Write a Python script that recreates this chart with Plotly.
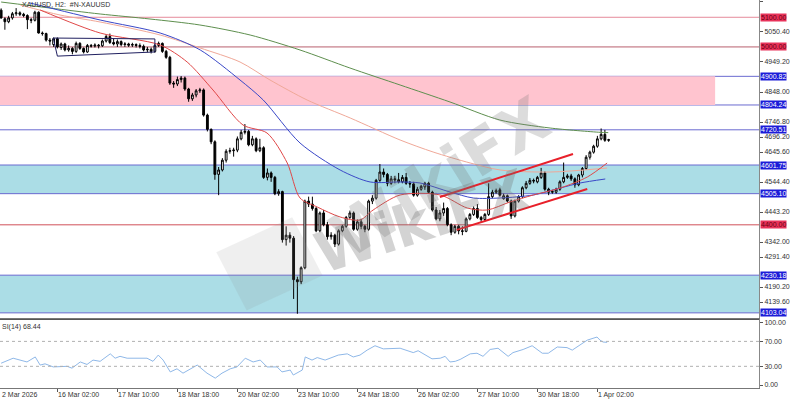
import plotly.graph_objects as go

# ---------------- candle data (H2 bars, XAUUSD) ----------------
opens = [5124, 5095, 5085, 5098, 5112, 5115, 5110, 5106, 5092, 5090,
         5117, 5047, 5045, 5023, 5008, 5028, 4998, 5010, 4990, 4995,
         4985, 5012, 4995, 4983, 5005, 5003, 5006, 5004, 5020, 5035,
         5015, 5010, 5018, 5008, 5010, 5006, 5008, 5005, 5002, 4990,
         4992, 4985, 5005, 5012, 4985, 4965, 4878, 4875, 4890, 4895,
         4858, 4825, 4838, 4852, 4855, 4770, 4722, 4680, 4570, 4585,
         4618, 4648, 4650, 4652, 4690, 4712, 4715, 4670, 4690, 4650,
         4660, 4560, 4575, 4560, 4505, 4512, 4350, 4365, 4355, 4215,
         4208, 4255, 4480, 4470, 4455, 4380, 4440, 4400, 4360, 4365,
         4335, 4380, 4395, 4425, 4440, 4385, 4410, 4395, 4385, 4480,
         4490, 4550, 4578, 4570, 4540, 4555, 4552, 4545, 4560, 4540,
         4538, 4500, 4520, 4528, 4540, 4510, 4450, 4420, 4440, 4455,
         4400, 4375, 4395, 4380, 4378, 4420, 4435, 4455, 4425, 4418,
         4435, 4495, 4510, 4518, 4488, 4498, 4480, 4430, 4480, 4495,
         4525, 4540, 4550, 4545, 4560, 4575, 4520, 4510, 4510, 4520,
         4545, 4560, 4565, 4555, 4535, 4568, 4590, 4628, 4645, 4665,
         4690, 4705, 4685]
highs = [5130, 5100, 5105, 5118, 5131, 5120, 5115, 5110, 5098, 5122,
         5120, 5052, 5048, 5030, 5032, 5032, 5015, 5014, 5005, 4999,
         5018, 5016, 4998, 5010, 5010, 5012, 5010, 5025, 5042, 5045,
         5030, 5025, 5022, 5016, 5014, 5014, 5012, 5012, 5008, 5000,
         4998, 5010, 5018, 5015, 4990, 4970, 4885, 4900, 4902, 4900,
         4862, 4845, 4858, 4862, 4860, 4775, 4725, 4685, 4595, 4625,
         4655, 4660, 4660, 4698, 4720, 4740, 4720, 4700, 4695, 4690,
         4665, 4590, 4580, 4565, 4520, 4515, 4395, 4375, 4362, 4225,
         4260, 4485, 4495, 4495, 4460, 4445, 4450, 4410, 4375, 4370,
         4385, 4400, 4430, 4448, 4445, 4418, 4420, 4400, 4485, 4500,
         4555, 4605, 4590, 4575, 4565, 4565, 4575, 4568, 4575, 4548,
         4545, 4528, 4535, 4545, 4545, 4515, 4460, 4450, 4475, 4460,
         4405, 4400, 4400, 4395, 4425, 4440, 4462, 4470, 4430, 4440,
         4540, 4518, 4522, 4525, 4505, 4502, 4485, 4485, 4500, 4530,
         4548, 4558, 4556, 4565, 4592, 4580, 4525, 4518, 4525, 4550,
         4610, 4572, 4572, 4560, 4572, 4595, 4635, 4650, 4670, 4700,
         4725, 4720, 4690]
lows = [5095, 5058, 5080, 5092, 5105, 5104, 5100, 5060, 5080, 5086,
        5045, 5038, 5018, 5005, 5000, 4995, 4990, 4985, 4984, 4975,
        4980, 4990, 4978, 4980, 4998, 4998, 4995, 5000, 5015, 5010,
        5005, 5000, 5002, 5000, 5000, 5000, 4998, 4995, 4985, 4982,
        4978, 4980, 5000, 4980, 4960, 4872, 4862, 4868, 4880, 4852,
        4815, 4818, 4830, 4845, 4765, 4715, 4672, 4552, 4500, 4580,
        4610, 4640, 4630, 4645, 4685, 4705, 4665, 4665, 4645, 4645,
        4555, 4550, 4545, 4500, 4498, 4340, 4330, 4340, 4150, 4100,
        4200, 4250, 4460, 4448, 4375, 4375, 4395, 4350, 4350, 4325,
        4330, 4375, 4390, 4420, 4380, 4380, 4385, 4375, 4380, 4470,
        4485, 4545, 4560, 4530, 4535, 4540, 4540, 4540, 4535, 4525,
        4495, 4495, 4515, 4518, 4505, 4445, 4415, 4412, 4430, 4395,
        4365, 4370, 4368, 4365, 4375, 4415, 4430, 4420, 4410, 4412,
        4430, 4490, 4505, 4495, 4485, 4475, 4420, 4425, 4475, 4490,
        4520, 4535, 4540, 4540, 4555, 4515, 4500, 4505, 4505, 4515,
        4540, 4555, 4548, 4525, 4530, 4560, 4585, 4620, 4640, 4660,
        4685, 4680, 4680]
closes = [5098, 5085, 5098, 5112, 5115, 5110, 5106, 5092, 5090, 5117,
          5047, 5045, 5023, 5020, 5028, 5000, 5010, 4990, 4995, 4985,
          5012, 4995, 4983, 5005, 5003, 5006, 5004, 5020, 5035, 5015,
          5010, 5018, 5008, 5010, 5006, 5008, 5005, 5002, 4990, 4992,
          4985, 5005, 5012, 4985, 4965, 4878, 4875, 4890, 4895, 4858,
          4825, 4838, 4852, 4855, 4770, 4722, 4680, 4570, 4585, 4618,
          4648, 4650, 4652, 4690, 4712, 4715, 4670, 4690, 4650, 4660,
          4560, 4575, 4560, 4505, 4512, 4350, 4365, 4355, 4215, 4208,
          4255, 4480, 4470, 4455, 4380, 4440, 4400, 4360, 4365, 4335,
          4380, 4395, 4425, 4440, 4385, 4410, 4395, 4385, 4480, 4490,
          4550, 4578, 4570, 4540, 4555, 4552, 4545, 4560, 4540, 4538,
          4500, 4520, 4530, 4540, 4510, 4450, 4420, 4440, 4455, 4400,
          4375, 4395, 4380, 4378, 4420, 4435, 4455, 4425, 4418, 4435,
          4495, 4510, 4515, 4500, 4498, 4480, 4430, 4480, 4495, 4525,
          4540, 4550, 4548, 4560, 4575, 4520, 4510, 4512, 4520, 4545,
          4560, 4565, 4555, 4535, 4568, 4590, 4628, 4645, 4665, 4690,
          4705, 4685, 4687]
bar_index = list(range(len(opens)))

# ---------------- moving averages (read at sample bars) ----------------
ma_green_idx = [0, 13, 26.4, 39.7, 53, 66.4, 79.7, 93, 106.4, 119.7, 133, 146.4, 159.7, 161.9]
ma_green_val = [5151.5, 5131.3, 5111.1, 5094.2, 5074.0, 5040.2, 4989.7, 4929.0, 4871.6, 4814.3,
                4753.5, 4726.5, 4712.0, 4711.0]
ma_salmon_idx = [5.1, 15.7, 26.4, 42.4, 53.1, 63.7, 71.7, 81.6, 93.1, 106.4, 115.2, 125.1, 133.1, 146.4, 161.6]
ma_salmon_val = [5141.4, 5107.7, 5084.1, 5040.2, 4996.4, 4949.2, 4888.5, 4821.0, 4760.3, 4686.1,
                 4645.6, 4608.5, 4584.9, 4578.1, 4591.6]
ma_blue_idx = [7.7, 26.4, 42.4, 53.1, 63.7, 69.9, 79.7, 90.4, 98.4, 106.4, 111.7, 119.7, 125.9,
               133.1, 141.9, 149.1, 154.4, 161.1]
ma_blue_val = [5148.2, 5090.8, 5047.0, 4989.7, 4888.5, 4821.0, 4676.0, 4584.9, 4544.5, 4544.5,
               4541.1, 4510.7, 4490.5, 4490.5, 4500.6, 4524.2, 4541.1, 4554.6]
ma_red_idx = [10.4, 26.4, 42.4, 49.6, 56.5, 64.5, 70.9, 76.3, 79.7, 84.3, 90.4, 95.7, 99.2, 106.4,
              117.1, 124.3, 129.6, 135.7, 141.9, 149.1, 156.3, 161.6]
ma_red_val = [5124.6, 5047.0, 5006.5, 4949.2, 4854.7, 4736.7, 4709.7, 4608.5, 4490.5, 4460.1,
              4426.4, 4416.2, 4450.0, 4500.6, 4500.6, 4456.7, 4450.0, 4477.0, 4500.6, 4524.2,
              4561.2, 4608.5]

# ---------------- RSI(14) ----------------
rsi_idx = [0, 3.2, 6.9, 9.1, 10.4, 11.7, 13.9, 17.6, 18.9, 21.1, 22.9, 24.5, 26.4, 29.1, 30.4,
           31.7, 33.6, 38.9, 40.5, 41.9, 43.2, 45.1, 46.9, 48.5, 52.3, 54.9, 57.1, 58.9, 61.1,
           62.9, 65.1, 67.2, 69.1, 70.9, 73.6, 74.9, 77.1, 77.9, 80.3, 81.1, 82.9, 84.3, 86.4,
           89.9, 92.3, 93.9, 95.7, 97.6, 99.7, 101.9, 106.4, 109.9, 111.2, 112.5, 114.9, 117.1,
           118.4, 119.7, 121.1, 122.4, 125.1, 126.9, 128.5, 130.4, 132.5, 135.2, 136.5, 139.2,
           141.6, 144.3, 145.9, 148.3, 150.9, 152.3, 155.2, 156.3, 158.9, 159.7, 160.5, 161.6]
rsi_val = [35, 43, 37, 45, 32, 34, 29, 30, 27, 37, 33, 40, 38, 50, 43,
           46, 43, 43, 38, 48, 40, 21, 26, 19, 32, 19, 11, 19, 26,
           29, 43, 37, 40, 29, 29, 21, 24, 16, 24, 45, 40, 44, 40,
           48, 50, 45, 48, 56, 63, 58, 59, 52, 55, 50, 42, 43,
           46, 37, 38, 41, 50, 51, 46, 57, 59, 46, 52, 57,
           63, 51, 51, 61, 60, 56, 67, 72, 77, 72, 69, 68.44]

# ---------------- levels, zones, drawings ----------------
level_prices = [5100.00, 5000.00, 4900.82, 4804.24, 4720.51, 4601.75, 4505.10, 4400.00, 4230.18, 4103.04]
level_line_colors = ["#e58a9a", "#b8606e", "#6a6ad0", "#6a6ad0", "#6a6ad0", "#6a6ad0", "#6a6ad0",
                     "#d0505a", "#6a6ad0", "#6a6ad0"]
level_tag_colors = ["#e8325a", "#e8325a", "#1c1cd8", "#1c1cd8", "#1c1cd8", "#1c1cd8", "#1c1cd8",
                    "#e8325a", "#1c1cd8", "#1c1cd8"]
level_text_colors = ["#6a0010", "#6a0010", "#ffffff", "#ffffff", "#ffffff", "#ffffff", "#ffffff",
                     "#6a0010", "#ffffff", "#ffffff"]
pink_zone = [4804.24, 4900.82]
pink_zone_end_bar = 190.4
cyan_zones = [[4505.10, 4601.75], [4103.04, 4230.18]]
channel_upper = [[117.0, 4494], [152.5, 4639]]
channel_lower = [[121.5, 4383], [156.3, 4521]]
range_box = [[13.9, 5030], [41.0, 5027], [41.0, 4983], [15.0, 4969]]

# price-axis labels that are not covered by the level tags
price_tick_vals = [5151.60, 5050.40, 4949.20, 4848.00, 4746.80, 4696.20, 4645.60,
                   4544.40, 4443.20, 4342.00, 4291.40, 4190.20, 4139.60]
time_tick_idx = [15, 31, 47, 63, 79, 95, 111, 127, 143, 159]
time_tick_labels = ["16 Mar 02:00", "17 Mar 10:00", "18 Mar 18:00", "20 Mar 02:00", "23 Mar 10:00",
                    "24 Mar 18:00", "26 Mar 02:00", "27 Mar 10:00", "30 Mar 18:00", "1 Apr 02:00"]
first_date_label = "2 Mar 2026"
rsi_ticks = [0, 30, 70, 100]

# ---------------- figure ----------------
FONT = "Liberation Sans"
XR = [-0.3, 202.1]
fig = go.Figure()

fig.add_trace(go.Candlestick(
    x=bar_index, open=opens, high=highs, low=lows, close=closes,
    increasing=dict(line=dict(color="black", width=1), fillcolor="white"),
    decreasing=dict(line=dict(color="black", width=1), fillcolor="black"),
    whiskerwidth=0, xaxis="x", yaxis="y", hoverinfo="skip", showlegend=False))

for idx, val, col in [(ma_green_idx, ma_green_val, "#5e8f4e"),
                      (ma_salmon_idx, ma_salmon_val, "#f0a898"),
                      (ma_blue_idx, ma_blue_val, "#3a48c8"),
                      (ma_red_idx, ma_red_val, "#e04848")]:
    fig.add_trace(go.Scatter(x=idx, y=val, mode="lines", line=dict(color=col, width=1, shape="spline",
                                                                    smoothing=0.8),
                             xaxis="x", yaxis="y", hoverinfo="skip", showlegend=False))

fig.add_trace(go.Scatter(x=rsi_idx, y=rsi_val, mode="lines", line=dict(color="#8fb8e8", width=1),
                         xaxis="x2", yaxis="y2", hoverinfo="skip", showlegend=False))

shapes = []
shapes.append(dict(type="rect", xref="x", yref="y", x0=XR[0], x1=pink_zone_end_bar,
                   y0=pink_zone[0], y1=pink_zone[1], fillcolor="#ffc4cf", line=dict(width=0),
                   layer="below"))
for z in cyan_zones:
    shapes.append(dict(type="rect", xref="paper", yref="y", x0=0, x1=1, y0=z[0], y1=z[1],
                       fillcolor="#abdde6", line=dict(width=0), layer="below"))
for p, c in zip(level_prices, level_line_colors):
    shapes.append(dict(type="line", xref="paper", yref="y", x0=0, x1=1, y0=p, y1=p,
                       line=dict(color=c, width=1), layer="below"))
for seg in (channel_upper, channel_lower):
    shapes.append(dict(type="line", xref="x", yref="y", x0=seg[0][0], y0=seg[0][1],
                       x1=seg[1][0], y1=seg[1][1], line=dict(color="#e8202a", width=2)))
path = "M " + " L ".join(f"{a},{b}" for a, b in range_box) + " Z"
shapes.append(dict(type="path", xref="x", yref="y", path=path, line=dict(color="#202060", width=1)))
for lv in (70, 30):
    shapes.append(dict(type="line", xref="paper", yref="y2", x0=0, x1=1, y0=lv, y1=lv,
                       line=dict(color="#b0b0b0", width=1, dash="dot")))
# watermark tile
shapes.append(dict(type="path", xref="paper", yref="paper",
                   path="M 0.285,0.35 L 0.385,0.44 L 0.425,0.29 L 0.325,0.20 Z",
                   fillcolor="rgba(140,140,140,0.14)", line=dict(width=0)))

annotations = []
for p, bg, tc in zip(level_prices, level_tag_colors, level_text_colors):
    annotations.append(dict(xref="paper", yref="y", x=1, y=p, xanchor="left", yanchor="middle",
                            text=f"{p:.2f}", showarrow=False, bgcolor=bg, borderpad=0,
                            font=dict(family=FONT, size=7, color=tc), xshift=1))
annotations.append(dict(xref="paper", yref="paper", x=0, y=0, xanchor="left", yanchor="top",
                        text=first_date_label, showarrow=False, yshift=-1,
                        font=dict(family=FONT, size=7, color="#333")))
for ti, tl in zip(time_tick_idx, time_tick_labels):
    annotations.append(dict(xref="x2", yref="paper", x=ti, y=0, xanchor="left", yanchor="top",
                            text=tl, showarrow=False, yshift=-1, xshift=-1,
                            font=dict(family=FONT, size=7, color="#333")))
annotations.append(dict(xref="paper", yref="paper", x=0.027, y=1, xanchor="left", yanchor="top",
                        text="XAUUSD, H2:  #N-XAUUSD", showarrow=False, yshift=1,
                        font=dict(family=FONT, size=7, color="#333")))
annotations.append(dict(xref="paper", yref="paper", x=0, y=0.172, xanchor="left", yanchor="top",
                        text="SI(14) 68.44", showarrow=False,
                        font=dict(family=FONT, size=7, color="#333")))
annotations.append(dict(xref="x", yref="y", x=117, y=4560, text="<b>WikiFX</b>", showarrow=False,
                        textangle=-32, font=dict(family="DejaVu Sans", size=62,
                                                  color="rgba(120,120,120,0.26)")))
annotations.append(dict(xref="x", yref="y", x=112, y=4410, text="<b>WikiFX</b>", showarrow=False,
                        textangle=-18, font=dict(family="DejaVu Sans", size=56,
                                                  color="rgba(110,110,110,0.30)")))

fig.update_layout(
    width=792, height=399, margin=dict(l=0, r=33, t=0, b=11),
    paper_bgcolor="white", plot_bgcolor="white",
    showlegend=False, hovermode=False,
    shapes=shapes, annotations=annotations,
    xaxis=dict(domain=[0, 1], range=XR, anchor="y", showticklabels=False, showgrid=False,
               zeroline=False, showline=True, linecolor="#555", linewidth=2,
               rangeslider=dict(visible=False), fixedrange=True),
    xaxis2=dict(domain=[0, 1], range=XR, anchor="y2", matches="x", showticklabels=False,
                tickvals=time_tick_idx, ticks="outside", ticklen=3, tickcolor="#555",
                showgrid=False, zeroline=False, showline=True, mirror=True,
                linecolor="#777", linewidth=1),
    yaxis=dict(domain=[0.1804, 1], range=[4085.7, 5158.3], anchor="x", side="right",
               tickvals=price_tick_vals, ticktext=[f"{v:.2f}" for v in price_tick_vals],
               ticks="outside", ticklen=3, tickcolor="#555", showgrid=False, zeroline=False,
               showline=True, linecolor="#888", linewidth=1,
               tickfont=dict(family=FONT, size=7, color="#333")),
    yaxis2=dict(domain=[0, 0.1778], range=[-4.8, 105.9], anchor="x2", side="right",
                tickvals=rsi_ticks, ticktext=[f"{v:.2f}" for v in rsi_ticks],
                ticks="outside", ticklen=3, tickcolor="#555", showgrid=False, zeroline=False,
                showline=True, linecolor="#888", linewidth=1,
                tickfont=dict(family=FONT, size=7, color="#333")),
)

fig.write_html("out.html")
